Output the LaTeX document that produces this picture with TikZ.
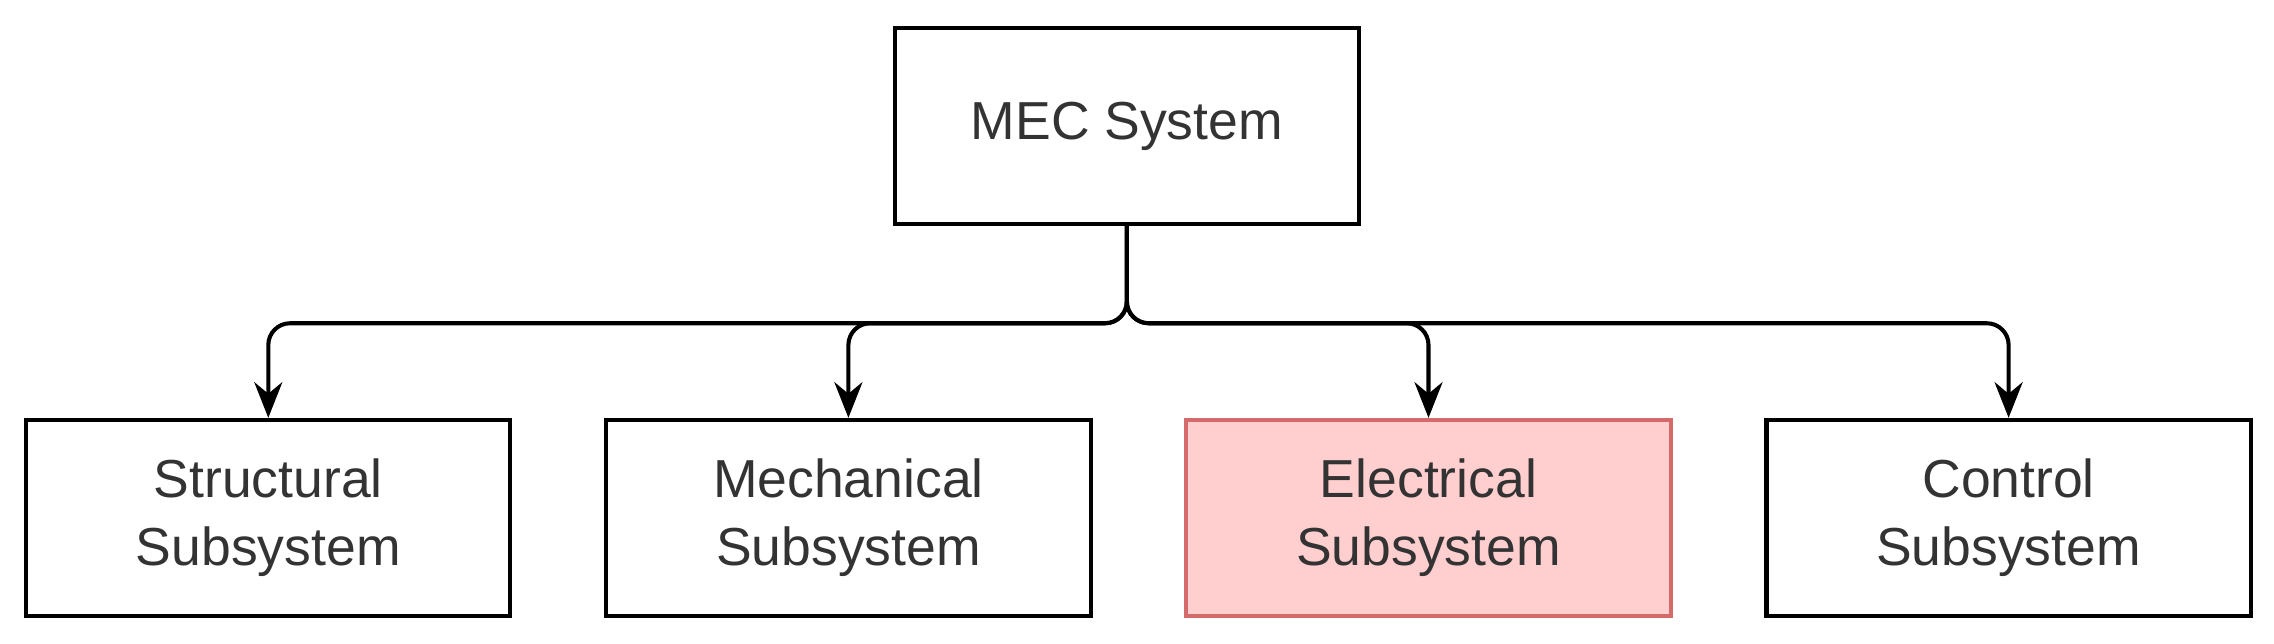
\documentclass[tikz,border=0pt]{standalone}
\usepackage{fontspec}
\setmainfont{Liberation Sans}
\usetikzlibrary{arrows.meta}
\definecolor{elecfill}{HTML}{FFCECE}
\definecolor{elecdraw}{HTML}{D46A6A}

\begin{document}
\begin{tikzpicture}[x=0.02cm,y=-0.02cm,
    block/.style={draw, line width=1.6pt, minimum width=6.68cm, minimum height=2.7cm,
        align=center, font=\fontsize{21}{27}\selectfont, text=black!80},
    link/.style={line width=1.6pt, rounded corners=0.3cm, -{Stealth[length=14pt,width=11pt]}}]
        \useasboundingbox (0,0) rectangle (1568,444);
        \node[block, minimum width=6.4cm] (sys) at (777,87) {MEC System};
        \node[block] (str) at (185,357) {Structural\\Subsystem};
        \node[block] (mec) at (585,357) {Mechanical\\Subsystem};
        \node[block, fill=elecfill, draw=elecdraw] (ele) at (985,357) {Electrical\\Subsystem};
        \node[block] (con) at (1385,357) {Control\\Subsystem};

        \draw[link] (sys.south) -- ++(0,67) -| (str.north);
        \draw[link] (sys.south) -- ++(0,67) -| (mec.north);
        \draw[link] (sys.south) -- ++(0,67) -| (ele.north);
        \draw[link] (sys.south) -- ++(0,67) -| (con.north);
\end{tikzpicture}
\end{document}
